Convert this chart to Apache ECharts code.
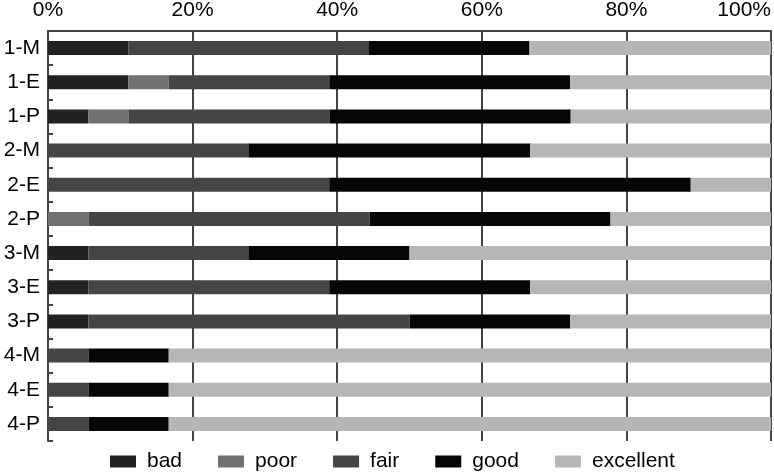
<!DOCTYPE html>
<html>
<head>
<meta charset="utf-8">
<script src="https://cdn.jsdelivr.net/npm/echarts@6/dist/echarts.min.js"></script>
<style>
  html, body { margin: 0; padding: 0; background: #fff; }
  #chart { width: 774px; height: 474px; }
</style>
</head>
<body>
<div id="chart"></div>
<script>
// categories, top to bottom
const categories = ['1-M', '1-E', '1-P', '2-M', '2-E', '2-P', '3-M', '3-E', '3-P', '4-M', '4-E', '4-P'];
const tickLabels = ['0%', '20%', '40%', '60%', '80%', '100%'];

// percentages
const bad       = [11.1, 11.1, 5.6, 0,    0,    0,    5.6,  5.6,  5.6,  0,    0,    0];
const poor      = [0,    5.6,  5.6, 0,    0,    5.6,  0,    0,    0,    0,    0,    0];
const fair      = [33.3, 22.2, 27.8, 27.8, 38.9, 38.9, 22.2, 33.3, 44.4, 5.6,  5.6,  5.6];
const good      = [22.2, 33.3, 33.3, 38.9, 50.0, 33.3, 22.2, 27.8, 22.2, 11.1, 11.1, 11.1];
const excellent = [33.4, 27.8, 27.7, 33.3, 11.1, 22.2, 50.0, 33.3, 27.8, 83.3, 83.3, 83.3];

const seriesNames = ['bad', 'poor', 'fair', 'good', 'excellent'];
const seriesData = [bad, poor, fair, good, excellent];
const colors = ['#222222', '#717171', '#454545', '#060606', '#b6b6b6'];

const font = 'Liberation Sans, Arial, sans-serif';

const chart = echarts.init(document.getElementById('chart'));

const option = {
  animation: false,
  color: colors,
  textStyle: { fontFamily: font },
  grid: {
    left: 48,
    right: 3,
    top: 31,
    bottom: 33,
    containLabel: false
  },
  legend: {
    top: 451,
    left: 110,
    itemWidth: 26,
    itemHeight: 12,
    itemGap: 36,
    icon: 'rect',
    padding: 0,
    textStyle: { fontSize: 21, color: '#000', fontFamily: font, padding: [0, 0, 0, 6] },
    data: seriesNames
  },
  xAxis: {
    type: 'value',
    position: 'top',
    min: 0,
    max: 100,
    interval: 20,
    axisLine: { show: true, lineStyle: { color: '#444', width: 2 } },
    axisTick: { show: false },
    axisLabel: {
      fontSize: 21,
      color: '#000',
      margin: 10,
      alignMaxLabel: 'right',
      formatter: function (v) { return tickLabels[Math.round(v / 20)]; }
    },
    splitLine: { show: true, lineStyle: { color: '#444', width: 2 } }
  },
  yAxis: {
    type: 'category',
    inverse: true,
    data: categories,
    axisLine: { show: true, lineStyle: { color: '#444', width: 2 } },
    axisTick: { show: true, inside: true, length: 5, lineStyle: { color: '#444', width: 2 } },
    axisLabel: { fontSize: 21, color: '#000', margin: 8 }
  },
  series: seriesNames.map(function (name, i) {
    return {
      name: name,
      type: 'bar',
      stack: 'total',
      barWidth: 14,
      data: seriesData[i],
      itemStyle: { color: colors[i] }
    };
  })
};

chart.setOption(option);
</script>
</body>
</html>
